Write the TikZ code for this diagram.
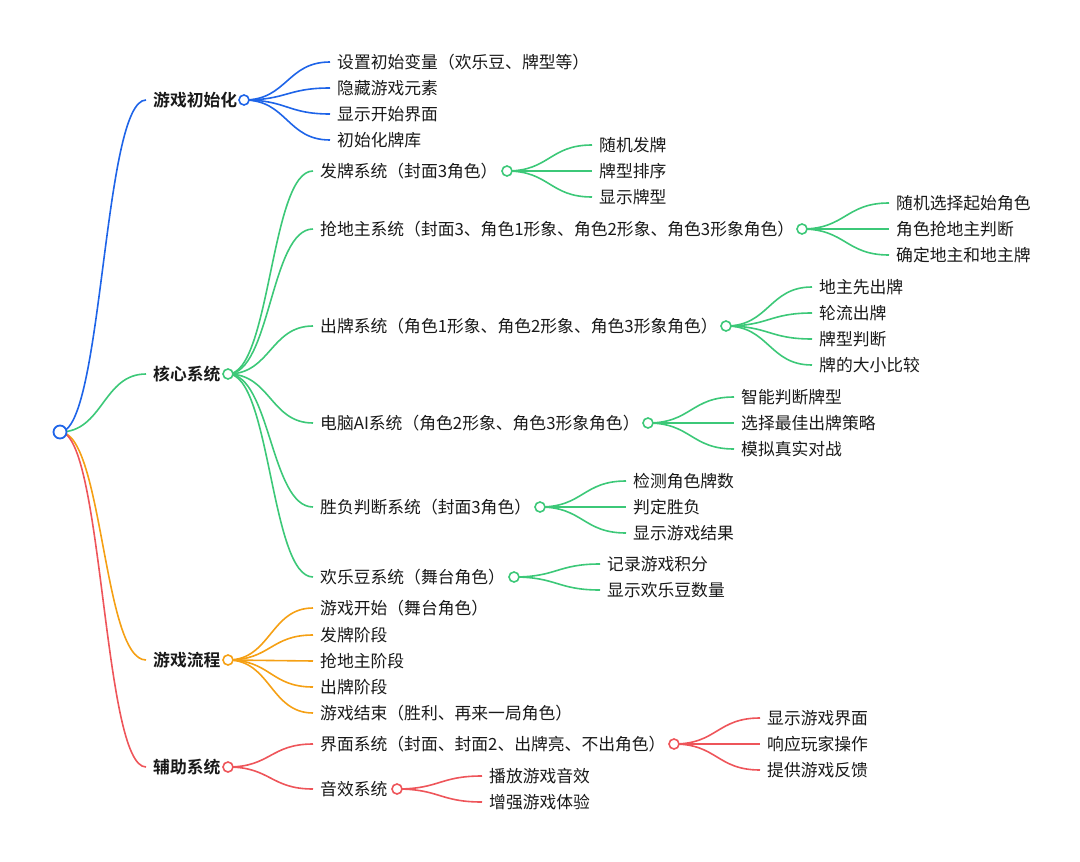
\documentclass[tikz,border=0pt]{standalone}
\usepackage{fontspec}
\setmainfont{Noto Sans CJK SC}[BoldFont={Noto Sans CJK SC Bold}]
\usetikzlibrary{calc}
\pgfdeclarelayer{bg}
\pgfsetlayers{bg,main}
\definecolor{cblue}{RGB}{30,100,232}
\definecolor{cgreen}{RGB}{60,200,120}
\definecolor{corange}{RGB}{245,160,20}
\definecolor{cred}{RGB}{238,85,90}
\definecolor{ctext}{RGB}{25,25,25}
\tikzset{
  txt/.style={anchor=west, inner xsep=7pt, inner ysep=0pt, text=ctext,
    font=\fontsize{16.8}{18}\selectfont},
  head/.style={txt, font=\fontsize{16.8}{18}\selectfont\bfseries},
  dot/.style={circle, draw=#1, fill=white, line width=1.6pt, minimum size=10pt, inner sep=0pt},
  link/.style={draw=#1, line width=1.6pt},
}
\newcommand\conn[3]{%
  \path ($(#2)!0.5!(#3)$) coordinate (mid);
  \begin{pgfonlayer}{bg}
  \draw[link=#1] (#2) .. controls (mid |- #2) and (mid |- #3) .. (#3);
  \end{pgfonlayer}}
\begin{document}
\begin{tikzpicture}[x=1pt,y=-1pt]
\useasboundingbox (0,0) rectangle (1080,862);
% root
\node[dot=cblue, minimum size=13pt, line width=1.8pt] (r) at (60,432) {};
% ---------- level 1
\node[head] (a) at (146,100) {游戏初始化};
\node[dot=cblue] (ac) at (244,100) {};
\node[head] (b) at (146,374) {核心系统};
\node[dot=cgreen] (bc) at (228,374) {};
\node[head] (c) at (146,660) {游戏流程};
\node[dot=corange] (cc) at (228,660) {};
\node[head] (d) at (146,767) {辅助系统};
\node[dot=cred] (dc) at (228,767) {};
\conn{cblue}{r.center}{a.west}
\conn{cgreen}{r.center}{b.west}
\conn{corange}{r.center}{c.west}
\conn{cred}{r.center}{d.west}
% ---------- 游戏初始化
\node[txt] (a1) at (330,62) {设置初始变量（欢乐豆、牌型等）};
\node[txt] (a2) at (330,88) {隐藏游戏元素};
\node[txt] (a3) at (330,114) {显示开始界面};
\node[txt] (a4) at (330,140) {初始化牌库};
\foreach \n in {a1,a2,a3,a4}{\conn{cblue}{ac.center}{\n.west}}
% ---------- 核心系统
\node[txt] (b1) at (313,171) {发牌系统（封面3角色）};
\node[dot=cgreen] (b1c) at (507,171) {};
\node[txt] (b2) at (313,229) {抢地主系统（封面3、角色1形象、角色2形象、角色3形象角色）};
\node[dot=cgreen] (b2c) at (802,229) {};
\node[txt] (b3) at (313,326) {出牌系统（角色1形象、角色2形象、角色3形象角色）};
\node[dot=cgreen] (b3c) at (726,326) {};
\node[txt] (b4) at (313,423) {电脑AI系统（角色2形象、角色3形象角色）};
\node[dot=cgreen] (b4c) at (648,423) {};
\node[txt] (b5) at (313,507) {胜负判断系统（封面3角色）};
\node[dot=cgreen] (b5c) at (540,507) {};
\node[txt] (b6) at (313,577) {欢乐豆系统（舞台角色）};
\node[dot=cgreen] (b6c) at (514,577) {};
\foreach \n in {b1,b2,b3,b4,b5,b6}{\conn{cgreen}{bc.center}{\n.west}}
% 发牌系统
\node[txt] (b11) at (592,145) {随机发牌};
\node[txt] (b12) at (592,171) {牌型排序};
\node[txt] (b13) at (592,197) {显示牌型};
\foreach \n in {b11,b12,b13}{\conn{cgreen}{b1c.center}{\n.west}}
% 抢地主系统
\node[txt] (b21) at (889,203) {随机选择起始角色};
\node[txt] (b22) at (889,229) {角色抢地主判断};
\node[txt] (b23) at (889,255) {确定地主和地主牌};
\foreach \n in {b21,b22,b23}{\conn{cgreen}{b2c.center}{\n.west}}
% 出牌系统
\node[txt] (b31) at (812,287) {地主先出牌};
\node[txt] (b32) at (812,313) {轮流出牌};
\node[txt] (b33) at (812,339) {牌型判断};
\node[txt] (b34) at (812,365) {牌的大小比较};
\foreach \n in {b31,b32,b33,b34}{\conn{cgreen}{b3c.center}{\n.west}}
% 电脑AI系统
\node[txt] (b41) at (734,397) {智能判断牌型};
\node[txt] (b42) at (734,423) {选择最佳出牌策略};
\node[txt] (b43) at (734,449) {模拟真实对战};
\foreach \n in {b41,b42,b43}{\conn{cgreen}{b4c.center}{\n.west}}
% 胜负判断系统
\node[txt] (b51) at (626,481) {检测角色牌数};
\node[txt] (b52) at (626,507) {判定胜负};
\node[txt] (b53) at (626,533) {显示游戏结果};
\foreach \n in {b51,b52,b53}{\conn{cgreen}{b5c.center}{\n.west}}
% 欢乐豆系统
\node[txt] (b61) at (600,564) {记录游戏积分};
\node[txt] (b62) at (600,590) {显示欢乐豆数量};
\foreach \n in {b61,b62}{\conn{cgreen}{b6c.center}{\n.west}}
% ---------- 游戏流程
\node[txt] (c1) at (313,608) {游戏开始（舞台角色）};
\node[txt] (c2) at (313,635) {发牌阶段};
\node[txt] (c3) at (313,661) {抢地主阶段};
\node[txt] (c4) at (313,687) {出牌阶段};
\node[txt] (c5) at (313,713) {游戏结束（胜利、再来一局角色）};
\foreach \n in {c1,c2,c3,c4,c5}{\conn{corange}{cc.center}{\n.west}}
% ---------- 辅助系统
\node[txt] (d1) at (313,744) {界面系统（封面、封面2、出牌亮、不出角色）};
\node[dot=cred] (d1c) at (674,744) {};
\node[txt] (d2) at (313,789) {音效系统};
\node[dot=cred] (d2c) at (397,789) {};
\foreach \n in {d1,d2}{\conn{cred}{dc.center}{\n.west}}
\node[txt] (d11) at (760,718) {显示游戏界面};
\node[txt] (d12) at (760,744) {响应玩家操作};
\node[txt] (d13) at (760,770) {提供游戏反馈};
\foreach \n in {d11,d12,d13}{\conn{cred}{d1c.center}{\n.west}}
\node[txt] (d21) at (482,776) {播放游戏音效};
\node[txt] (d22) at (482,802) {增强游戏体验};
\foreach \n in {d21,d22}{\conn{cred}{d2c.center}{\n.west}}
\end{tikzpicture}
\end{document}
